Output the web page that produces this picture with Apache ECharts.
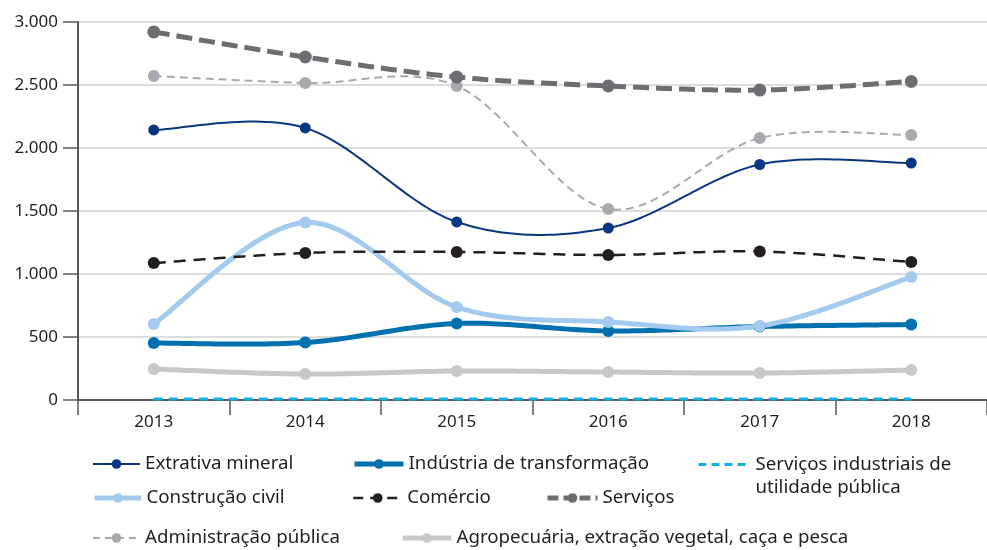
<!DOCTYPE html>
<html><head><meta charset="utf-8">
<script src="https://cdn.jsdelivr.net/npm/echarts@6/dist/echarts.min.js"></script>
<style>html,body{margin:0;padding:0;background:#fff}#c{width:987px;height:550px}</style>
</head><body><div id="c"></div>
<script>
const years = ['2013','2014','2015','2016','2017','2018'];
const extrativa = [2143, 2159, 1413, 1365, 1869, 1881];
const industria = [452, 456, 607, 548, 583, 599];
const servIndustriais = [8, 8, 8, 8, 8, 8];
const construcao = [603, 1409, 738, 619, 587, 976];
const comercio = [1087, 1167, 1175, 1151, 1179, 1095];
const servicos = [2921, 2722, 2563, 2492, 2460, 2528];
const administracao = [2571, 2516, 2492, 1516, 2079, 2103];
const agropecuaria = [246, 206, 230, 222, 214, 238];
const yTicks = [0, 500, 1000, 1500, 2000, 2500, 3000];

const FONT = 'Noto Sans';
const TXT = '#231f20';

const defs = [
  { name: 'Serviços industriais de\nutilidade pública', data: servIndustriais, color: '#1aaee0', width: 3, dash: [9, 6], sym: 0, legDash: [8, 5] },
  { name: 'Agropecuária, extração vegetal, caça e pesca', data: agropecuaria, color: '#c8c8c9', width: 5, dash: null, sym: 12 },
  { name: 'Indústria de transformação', data: industria, color: '#0071ae', width: 5, dash: null, sym: 12 },
  { name: 'Construção civil', data: construcao, color: '#a4cbed', width: 5, dash: null, sym: 12 },
  { name: 'Comércio', data: comercio, color: '#231f20', width: 2.5, dash: [12, 8], sym: 12, legDash: [10, 7] },
  { name: 'Extrativa mineral', data: extrativa, color: '#0a3680', width: 2, dash: null, sym: 11 },
  { name: 'Administração pública', data: administracao, color: '#a7a9ac', width: 2, dash: [8, 5], sym: 12, legDash: [7, 5] },
  { name: 'Serviços', data: servicos, color: '#6d6e71', width: 5, dash: [16, 7], sym: 13, legDash: [11, 5] }
];

function curve(d) {
  const values = d.data;
  return {
    type: 'custom', silent: true, z: 2,
    data: values.map((v, i) => [i, v]),
    renderItem: function (params, api) {
      if (params.dataIndex !== 0) return null;
      const P = values.map((v, i) => api.coord([i, v]));
      const pts = [];
      const n = P.length, k = 1 / 6;
      for (let i = 0; i < n - 1; i++) {
        const p0 = P[i - 1] || P[i], p1 = P[i], p2 = P[i + 1], p3 = P[i + 2] || P[i + 1];
        const c1 = [p1[0] + (p2[0] - p0[0]) * k, p1[1] + (p2[1] - p0[1]) * k];
        const c2 = [p2[0] - (p3[0] - p1[0]) * k, p2[1] - (p3[1] - p1[1]) * k];
        const S = 30;
        for (let s = (i === 0 ? 0 : 1); s <= S; s++) {
          const t = s / S, u = 1 - t;
          pts.push([
            u*u*u*p1[0] + 3*u*u*t*c1[0] + 3*u*t*t*c2[0] + t*t*t*p2[0],
            u*u*u*p1[1] + 3*u*u*t*c1[1] + 3*u*t*t*c2[1] + t*t*t*p2[1]
          ]);
        }
      }
      return {
        type: 'polyline', shape: { points: pts },
        style: { stroke: d.color, lineWidth: d.width, lineDash: d.dash || null, fill: null, lineCap: 'butt', lineJoin: 'round' }
      };
    }
  };
}
function marks(d) {
  return {
    name: d.name, type: 'line', data: d.data, z: 2,
    symbol: d.sym ? 'circle' : 'none', symbolSize: d.sym || 0, showSymbol: !!d.sym,
    itemStyle: { color: d.color },
    lineStyle: { color: d.color, width: d.width, type: d.dash || 'solid', opacity: 0 }
  };
}
const series = [];
defs.forEach(d => { series.push(curve(d)); series.push(marks(d)); });

function lg(name, left, top, w, extra) {
  const d = defs.find(x => x.name === name);
  return Object.assign({
    data: [name], left, top, padding: 0, itemWidth: w || 47, itemHeight: 12,
    selectedMode: false,
    lineStyle: { color: d.color, width: d.width, type: d.legDash || d.dash || 'solid', opacity: 1 },
    itemStyle: { color: d.color, opacity: d.sym ? 1 : 0 },
    textStyle: { fontFamily: FONT, fontSize: 18.7, color: TXT, lineHeight: 20 }
  }, extra || {});
}

const chart = echarts.init(document.getElementById('c'));
chart.setOption({
  animation: false,
  grid: { left: 78, right: -3, top: 22, bottom: 150, containLabel: false },
  xAxis: {
    type: 'category', data: years, boundaryGap: true,
    axisLine: { lineStyle: { color: '#58595b', width: 2 } },
    axisTick: { show: true, length: 15, lineStyle: { color: '#58595b', width: 1.5 } },
    axisLabel: { fontFamily: FONT, fontSize: 17, color: TXT, margin: 14 }
  },
  yAxis: {
    type: 'value', min: 0, max: 3000, interval: 500,
    axisLine: { show: true, lineStyle: { color: '#231f20', width: 1.5 } },
    axisTick: { show: true, length: 15, lineStyle: { color: '#58595b', width: 1.5 } },
    axisLabel: { fontFamily: FONT, fontSize: 17, color: TXT, margin: 20,
      formatter: v => String(v).replace(/\B(?=(\d{3})+(?!\d))/g, '.') },
    splitLine: { lineStyle: { color: '#dcdddd', width: 2 } }
  },
  legend: [
    lg('Extrativa mineral', 92, 454),
    lg('Indústria de transformação', 352, 454, 49),
    lg('Serviços industriais de\nutilidade pública', 697, 430, 52, {
      formatter: n => '\n' + n,
      textStyle: { fontFamily: FONT, fontSize: 18.7, color: TXT, lineHeight: 23 } }),
    lg('Construção civil', 92, 488),
    lg('Comércio', 352, 488, 49),
    lg('Serviços', 545, 488, 50),
    lg('Administração pública', 92, 528),
    lg('Agropecuária, extração vegetal, caça e pesca', 400, 528, 49)
  ],
  series
});
</script></body></html>
